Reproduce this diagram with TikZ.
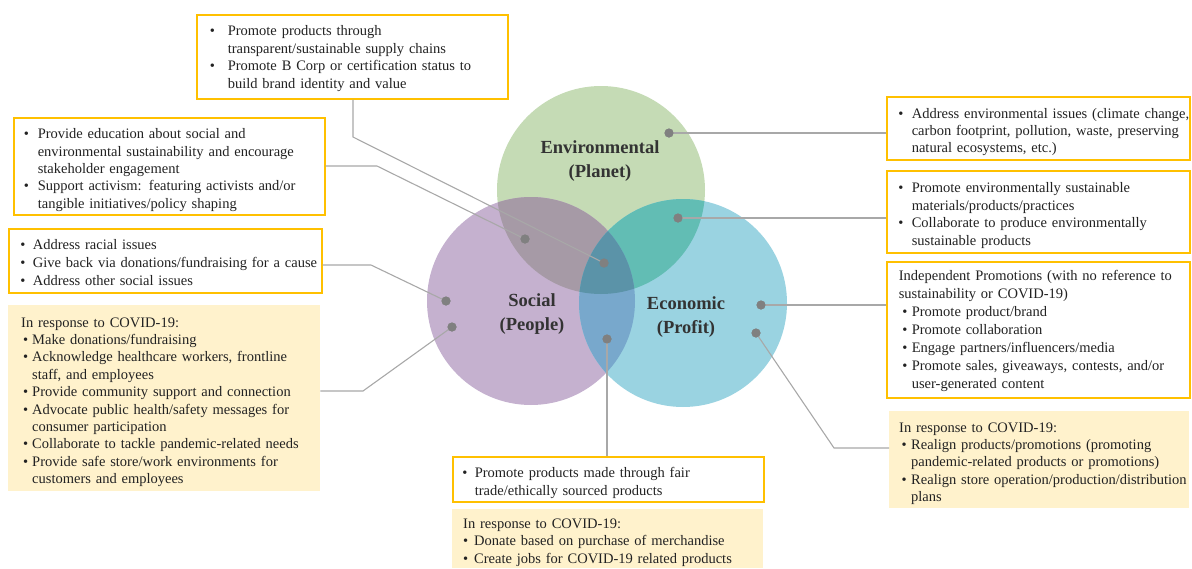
\documentclass[tikz,border=0pt]{standalone}
\usepackage{fontspec}
\setmainfont{Liberation Serif}
\usetikzlibrary{calc}
\definecolor{cgreen}{HTML}{C5DBB5}
\definecolor{cpurple}{HTML}{C5B1CF}
\definecolor{cblue}{HTML}{9AD3E1}
\definecolor{cES}{HTML}{A69AA6}
\definecolor{cEC}{HTML}{62BDB4}
\definecolor{cSC}{HTML}{78A8CC}
\definecolor{cESC}{HTML}{5B93A8}
\definecolor{gold}{HTML}{FFC000}
\definecolor{covid}{HTML}{FFF2CC}
\definecolor{lineg}{HTML}{A8A8A8}
\definecolor{dotg}{HTML}{808080}
\definecolor{txt}{HTML}{222222}
\newlength\hg \setlength\hg{11pt}
\newlength\bo \setlength\bo{0pt}
\newcommand{\bi}[1]{\par\noindent\hangindent=\hg\hangafter=1\hbox to \hg{\hskip\bo\textbullet\hfil}\mbox{#1}}
\newcommand{\hd}[1]{\par\noindent\mbox{#1}}
\newcommand{\nl}[1]{\newline\mbox{#1}}
\tikzset{
  boxbase/.style={anchor=north west, align=left, inner ysep=0pt, text=txt,
    font=\fontsize{14.5}{17.4}\selectfont},
  gbox/.style={boxbase, draw=gold, line width=1.6pt, fill=white},
  cbox/.style={boxbase, fill=covid},
  dot/.style={circle, fill=dotg, inner sep=0pt, minimum size=9pt},
  conn/.style={draw=lineg, line width=1.1pt},
  clabel/.style={align=center, text=black!80, font=\fontsize{18.5}{24}\selectfont\bfseries},
  venn/.style={circle, inner sep=0pt, minimum size=208pt}
}
\begin{document}
\begin{tikzpicture}[x=1pt,y=-1pt]
\useasboundingbox (0,0) rectangle (1192,568);
% circles
\node[venn, fill=cgreen] (env) at (601,190) {};
\node[venn, fill=cpurple] (soc) at (531,301) {};
\node[venn, fill=cblue] (eco) at (683,303) {};
\begin{scope}
  \clip (601,190) circle (104);
  \fill[cES] (531,301) circle (104);
  \fill[cEC] (683,303) circle (104);
\end{scope}
\begin{scope}
  \clip (531,301) circle (104);
  \fill[cSC] (683,303) circle (104);
  \clip (601,190) circle (104);
  \fill[cESC] (683,303) circle (104);
\end{scope}
% labels
\node[clabel] (lenv) at (600,161) {Environmental\\(Planet)};
\node[clabel] (lsoc) at (532,314) {Social\\(People)};
\node[clabel] (leco) at (686,317) {Economic\\(Profit)};
% boxes
\node[gbox, inner xsep=13pt, text width=285pt, minimum height=84pt] (b1) at (196,14)
 {\setlength\hg{18pt}\bi{Promote products through}\nl{transparent/sustainable supply chains}
  \bi{Promote B Corp or certification status to}\nl{build brand identity and value}\par\vspace{4pt}};
\node[gbox, inner xsep=10pt, text width=291pt, minimum height=97pt] (b2) at (13,117)
 {\setlength\hg{14pt}\bi{Provide education about social and}\nl{environmental sustainability and encourage}\nl{stakeholder engagement}
  \bi{Support activism: featuring activists and/or}\nl{tangible initiatives/policy shaping}\par};
\node[gbox, inner xsep=11.5pt, text width=290pt, minimum height=64pt, font=\fontsize{14.5}{18}\selectfont] (b3) at (8,228)
 {\setlength\hg{12.5pt}\bi{Address racial issues}
  \bi{Give back via donations/fundraising for a cause}
  \bi{Address other social issues}\par\vspace{5pt}};
\node[cbox, inner xsep=13pt, text width=286pt, minimum height=186pt] (b4) at (8,305)
 {\setlength\hg{11pt}\setlength\bo{2pt}\hd{In response to COVID-19:}
  \bi{Make donations/fundraising}
  \bi{Acknowledge healthcare workers, frontline}\nl{staff, and employees}
  \bi{Provide community support and connection}
  \bi{Advocate public health/safety messages for}\nl{consumer participation}
  \bi{Collaborate to tackle pandemic-related needs}
  \bi{Provide safe store/work environments for}\nl{customers and employees}\par};
\node[gbox, inner xsep=11.5pt, text width=280pt, minimum height=63pt] (b5) at (886,96)
 {\setlength\hg{13.5pt}\bi{Address environmental issues (climate change,}\nl{carbon footprint, pollution, waste, preserving}\nl{natural ecosystems, etc.)}\par};
\node[gbox, inner xsep=11.5pt, text width=280pt, minimum height=82pt] (b6) at (886,170)
 {\setlength\hg{13.5pt}\bi{Promote environmentally sustainable}\nl{materials/products/practices}
  \bi{Collaborate to produce environmentally}\nl{sustainable products}\par};
\node[gbox, inner xsep=12pt, text width=279pt, minimum height=136pt, font=\fontsize{14.5}{18}\selectfont] (b7) at (886,261)
 {\setlength\hg{13pt}\setlength\bo{3.5pt}\hd{Independent Promotions (with no reference to}\nl{sustainability or COVID-19)}
  \bi{Promote product/brand}
  \bi{Promote collaboration}
  \bi{Engage partners/influencers/media}
  \bi{Promote sales, giveaways, contests, and/or}\nl{user-generated content}\par\vspace{5pt}};
\node[cbox, inner xsep=10pt, text width=280pt, minimum height=97pt] (b8) at (889,411)
 {\setlength\hg{12pt}\setlength\bo{2.5pt}\hd{In response to COVID-19:}
  \bi{Realign products/promotions (promoting}\nl{pandemic-related products or promotions)}
  \bi{Realign store operation/production/distribution}\nl{plans}\par};
\node[gbox, inner xsep=9.5pt, text width=292pt, minimum height=45pt] (b9) at (452,456)
 {\setlength\hg{12.5pt}\bi{Promote products made through fair}\nl{trade/ethically sourced products}\par};
\node[cbox, inner xsep=11pt, text width=289pt, minimum height=59pt] (b10) at (452,509)
 {\setlength\hg{11pt}\setlength\bo{0pt}\hd{In response to COVID-19:}
  \bi{Donate based on purchase of merchandise}
  \bi{Create jobs for COVID-19 related products}\par};
% dots
\node[dot] (dE) at (669,133) {};
\node[dot] (dEC) at (678,218) {};
\node[dot] (dES) at (525,239) {};
\node[dot] (dESC) at (604,263) {};
\node[dot] (dS1) at (446,301) {};
\node[dot] (dS2) at (452,327) {};
\node[dot] (dSC) at (607,339) {};
\node[dot] (dC1) at (761,305) {};
\node[dot] (dC2) at (756,333) {};
\coordinate (k1) at (353,137);
\coordinate (k2) at (377,166);
\coordinate (k3) at (371,265);
\coordinate (k4) at (363,391);
\coordinate (k5) at (834,448);
% connectors
\draw[conn] (k1 |- b1.south) -- (k1) -- (dESC.center);
\draw[conn] (k2 -| b2.east) -- (k2) -- (dES.center);
\draw[conn] (k3 -| b3.east) -- (k3) -- (dS1.center);
\draw[conn] (k4 -| b4.east) -- (k4) -- (dS2.center);
\draw[conn] (dE.center) -- (dE -| b5.west);
\draw[conn] (dEC.center) -- (dEC -| b6.west);
\draw[conn] (dC1.center) -- (dC1 -| b7.west);
\draw[conn] (dC2.center) -- (k5) -- (k5 -| b8.west);
\draw[conn] (dSC.center) -- (dSC |- b9.north);
% redraw dots on top
\foreach \d in {dE,dEC,dES,dESC,dS1,dS2,dSC,dC1,dC2} \fill[dotg] (\d) circle (4.5);
\end{tikzpicture}
\end{document}
